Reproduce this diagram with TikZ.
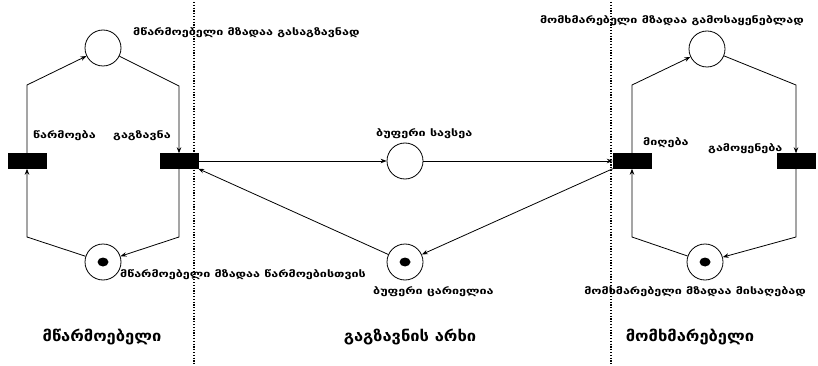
\documentclass[tikz,border=0pt]{standalone}
\usepackage{fontspec}
\setmainfont{DejaVu Sans}
\newfontfamily\widefont[FakeStretch=1.32]{DejaVu Sans}
\newfontfamily\titlefont[FakeStretch=1.1]{DejaVu Sans}
\usetikzlibrary{arrows.meta,shapes.geometric}
\tikzset{
  place/.style={circle,draw,line width=0.8pt,minimum size=36pt,inner sep=0pt},
  trans/.style={rectangle,fill=black,draw=black,minimum width=38pt,minimum height=15pt,inner sep=0pt},
  tok/.style={ellipse,fill=black,minimum width=11pt,minimum height=9pt,inner sep=0pt},
  arc/.style={line width=0.8pt,-{Stealth[length=6pt,width=4.5pt]}},
  sep/.style={line width=1.3pt,dash pattern=on 1.2pt off 1.6pt},
  lbl/.style={font=\widefont\fontsize{9.5}{10}\selectfont\bfseries,inner sep=0pt,anchor=base west},
  lblr/.style={lbl,anchor=base east},
  ttl/.style={font=\titlefont\fontsize{15}{16}\selectfont\bfseries,inner sep=0pt,anchor=base}
}
\begin{document}
\begin{tikzpicture}[x=1pt,y=-1pt]
\useasboundingbox (0,0) rectangle (818,366);
% separators
\draw[sep] (194,2) -- (194,366);
\draw[sep] (611,2) -- (611,366);
% places
\node[place] (p1) at (103,48) {};
\node[place] (p2) at (103,262) {};
\node[tok] (k2) at (p2) {};
\node[place] (bf) at (405,161) {};
\node[place] (be) at (405,262) {};
\node[tok] (kb) at (be) {};
\node[place] (p3) at (707,49) {};
\node[place] (p4) at (705,262) {};
\node[tok] (k4) at (p4) {};
% transitions
\node[trans] (t1) at (27,161) {};
\node[trans] (t2) at (179,161) {};
\node[trans] (t3) at (632,161) {};
\node[trans] (t4) at (796,161) {};
% corners
\coordinate (c1) at (27,85);
\coordinate (c2) at (179,86);
\coordinate (c3) at (179,237);
\coordinate (c4) at (27,237);
\coordinate (c5) at (632,85);
\coordinate (c6) at (796,85);
\coordinate (c7) at (796,237);
\coordinate (c8) at (632,237);
% arcs
\draw[arc] (t1.north) -- (c1) -- (p1);
\draw[arc] (p1) -- (c2) -- (t2.north);
\draw[arc] (t2.south) -- (c3) -- (p2);
\draw[arc] (p2) -- (c4) -- (t1.south);
\draw[arc] (t2.east) -- (bf.west);
\draw[arc] (bf.east) -- (t3.west);
\draw[arc] (t3.south west) -- (be);
\draw[arc] (be) -- (t2.south east);
\draw[arc] (t3.north) -- (c5) -- (p3);
\draw[arc] (p3) -- (c6) -- (t4.north);
\draw[arc] (t4.south) -- (c7) -- (p4);
\draw[arc] (p4) -- (c8) -- (t3.south);
% labels
\node[lbl] (l1) at (133,36) {მწარმოებელი მზადაა გასაგზავნად};
\node[lbl] (l2) at (33,139) {წარმოება};
\node[lbl] (l3) at (113,139) {გაგზავნა};
\node[lbl] (l4) at (376,137) {ბუფერი სავსეა};
\node[lbl] (l5) at (643,146) {მიღება};
\node[lbl] (l6) at (708,152) {გამოყენება};
\node[lblr] (l7) at (804,24) {მომხმარებელი მზადაა გამოსაყენებლად};
\node[lbl] (l8) at (120,277) {მწარმოებელი მზადაა წარმოებისთვის};
\node[lbl] (l9) at (373,294) {ბუფერი ცარიელია};
\node[lblr] (l10) at (806,294) {მომხმარებელი მზადაა მისაღებად};
% titles
\node[ttl] (h1) at (102,341) {მწარმოებელი};
\node[ttl] (h2) at (410,341) {გაგზავნის არხი};
\node[ttl] (h3) at (690,341) {მომხმარებელი};
\end{tikzpicture}
\end{document}
